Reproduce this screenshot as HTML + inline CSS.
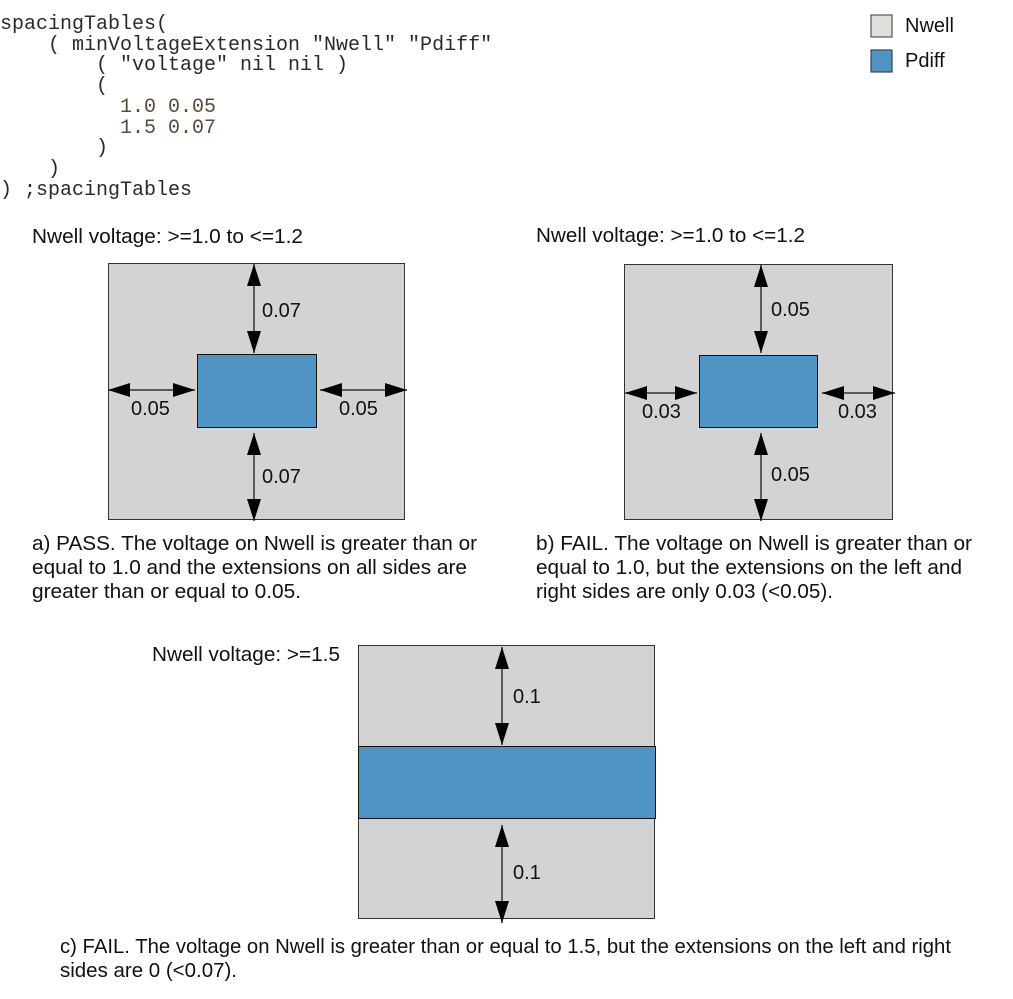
<!DOCTYPE html>
<html>
<head>
<meta charset="utf-8">
<style>
  html, body { margin: 0; padding: 0; background: #ffffff; }
  body { width: 1013px; height: 999px; overflow: hidden; }
  svg { display: block; }
  .sans { font-family: "Liberation Sans", Arial, sans-serif; fill: #111; }
  .mono { font-family: "Liberation Mono", "Courier New", monospace; fill: #2a2a2a; white-space: pre; }
</style>
</head>
<body>
<svg width="1013" height="999" viewBox="0 0 1013 999" xmlns="http://www.w3.org/2000/svg">
  <rect x="0" y="0" width="1013" height="999" fill="#ffffff"/>

  <!-- Code block -->
  <g class="mono" font-size="20">
    <text x="0" y="29">spacingTables(</text>
    <text x="48" y="50">( minVoltageExtension "Nwell" "Pdiff"</text>
    <text x="96" y="70">( "voltage" nil nil )</text>
    <text x="96" y="91">(</text>
    <text x="120" y="112" style="fill:#5c4a38">1.0 0.05</text>
    <text x="120" y="133" style="fill:#5c4a38">1.5 0.07</text>
    <text x="96" y="153">)</text>
    <text x="48" y="174">)</text>
    <text x="0" y="195">) ;spacingTables</text>
  </g>

  <!-- Legend -->
  <rect x="871" y="15" width="21" height="22" fill="#dfdfdc" stroke="#555" stroke-width="1.2"/>
  <text class="sans" x="905" y="32" font-size="20">Nwell</text>
  <rect x="871" y="50" width="21" height="22" fill="#4f94c5" stroke="#444" stroke-width="1.2"/>
  <text class="sans" x="905" y="67" font-size="20">Pdiff</text>

  <defs>
    <marker id="ah" viewBox="0 0 22 14" refX="22" refY="7" markerWidth="22" markerHeight="14" markerUnits="userSpaceOnUse" orient="auto-start-reverse">
      <path d="M0,0 L22,7 L0,14 z" fill="#000"/>
    </marker>
  </defs>

  <!-- ===== Diagram a ===== -->
  <text class="sans" x="32" y="243" font-size="20" textLength="271" lengthAdjust="spacingAndGlyphs">Nwell voltage: &gt;=1.0 to &lt;=1.2</text>
  <rect x="108.5" y="263.5" width="296" height="256" fill="#d3d3d3" stroke="#333" stroke-width="1"/>
  <rect x="197.5" y="354.5" width="119" height="73" fill="#4f94c5" stroke="#111" stroke-width="1"/>
  <g stroke="#333" stroke-width="1.5" marker-start="url(#ah)" marker-end="url(#ah)">
    <line x1="254" y1="264" x2="254" y2="353"/>
    <line x1="254" y1="433" x2="254" y2="521"/>
    <line x1="108" y1="390" x2="195" y2="390"/>
    <line x1="320" y1="390" x2="407" y2="390"/>
  </g>
  <g class="sans" font-size="20">
    <text x="262" y="317">0.07</text>
    <text x="262" y="483">0.07</text>
    <text x="131" y="415">0.05</text>
    <text x="339" y="415">0.05</text>
  </g>
  <g class="sans" font-size="20">
    <text x="32" y="550" textLength="445" lengthAdjust="spacingAndGlyphs">a) PASS. The voltage on Nwell is greater than or</text>
    <text x="32" y="574" textLength="435" lengthAdjust="spacingAndGlyphs">equal to 1.0 and the extensions on all sides are</text>
    <text x="32" y="598" textLength="269" lengthAdjust="spacingAndGlyphs">greater than or equal to 0.05.</text>
  </g>

  <!-- ===== Diagram b ===== -->
  <text class="sans" x="536" y="242" font-size="20" textLength="269" lengthAdjust="spacingAndGlyphs">Nwell voltage: &gt;=1.0 to &lt;=1.2</text>
  <rect x="624.5" y="264.5" width="268" height="255" fill="#d3d3d3" stroke="#333" stroke-width="1"/>
  <rect x="699.5" y="355.5" width="118" height="72" fill="#4f94c5" stroke="#111" stroke-width="1"/>
  <g stroke="#333" stroke-width="1.5" marker-start="url(#ah)" marker-end="url(#ah)">
    <line x1="761" y1="265" x2="761" y2="353"/>
    <line x1="761" y1="433" x2="761" y2="521"/>
    <line x1="625" y1="393" x2="697" y2="393"/>
    <line x1="822" y1="393" x2="895" y2="393"/>
  </g>
  <g class="sans" font-size="20">
    <text x="771" y="316">0.05</text>
    <text x="771" y="481">0.05</text>
    <text x="642" y="418">0.03</text>
    <text x="838" y="418">0.03</text>
  </g>
  <g class="sans" font-size="20">
    <text x="536" y="550" textLength="436" lengthAdjust="spacingAndGlyphs">b) FAIL. The voltage on Nwell is greater than or</text>
    <text x="536" y="574" textLength="426" lengthAdjust="spacingAndGlyphs">equal to 1.0, but the extensions on the left and</text>
    <text x="536" y="598" textLength="297" lengthAdjust="spacingAndGlyphs">right sides are only 0.03 (&lt;0.05).</text>
  </g>

  <!-- ===== Diagram c ===== -->
  <text class="sans" x="152" y="661" font-size="20" textLength="188" lengthAdjust="spacingAndGlyphs">Nwell voltage: &gt;=1.5</text>
  <rect x="358.5" y="645.5" width="296" height="273" fill="#d3d3d3" stroke="#333" stroke-width="1"/>
  <rect x="358.5" y="746.5" width="297" height="72" fill="#4f94c5" stroke="#111" stroke-width="1"/>
  <g stroke="#333" stroke-width="1.5" marker-start="url(#ah)" marker-end="url(#ah)">
    <line x1="502" y1="647" x2="502" y2="745"/>
    <line x1="502" y1="825" x2="502" y2="923"/>
  </g>
  <g class="sans" font-size="20">
    <text x="513" y="703">0.1</text>
    <text x="513" y="879">0.1</text>
  </g>
  <g class="sans" font-size="20">
    <text x="60" y="953" textLength="891" lengthAdjust="spacingAndGlyphs">c) FAIL. The voltage on Nwell is greater than or equal to 1.5, but the extensions on the left and right</text>
    <text x="60" y="977" textLength="177" lengthAdjust="spacingAndGlyphs">sides are 0 (&lt;0.07).</text>
  </g>
</svg>
</body>
</html>
